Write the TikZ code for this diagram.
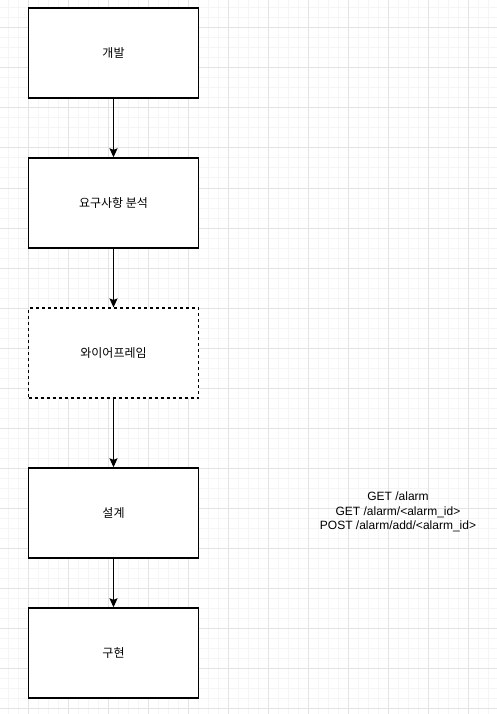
\documentclass[tikz,border=0pt]{standalone}
\usepackage{fontspec}
\setmainfont{Liberation Sans}
\newfontfamily\kr{Noto Sans CJK KR}
\usetikzlibrary{arrows.meta}
\begin{document}
\begin{tikzpicture}[x=1pt,y=-1pt,
  box/.style={draw=black,line width=1.4pt,fill=white,minimum width=170pt,minimum height=90pt,inner sep=0pt,font=\kr\fontsize{12}{14}\selectfont},
  dbox/.style={box,line width=1.1pt,dash pattern=on 3pt off 3pt},
  conn/.style={draw=black,line width=1.2pt,-{Stealth[length=9pt,width=8pt,inset=1.5pt]}},
  note/.style={align=center,font=\fontsize{12}{14.5}\selectfont,inner sep=0pt}]
\useasboundingbox (0,0) rectangle (497,714);
\fill[white] (0,0) rectangle (497,714);
\foreach \i in {0,...,49} {
  \draw[color=black!4,line width=1pt] ({8+10*\i},0) -- ({8+10*\i},714);
}
\foreach \i in {0,...,71} {
  \draw[color=black!4,line width=1pt] (0,{8+10*\i}) -- (497,{8+10*\i});
}
\foreach \i in {0,...,12} {
  \draw[color=black!11,line width=1pt] ({28+40*\i},0) -- ({28+40*\i},714);
}
\foreach \i in {0,...,17} {
  \draw[color=black!11,line width=1pt] (0,{28+40*\i}) -- (497,{28+40*\i});
}
\node[box] (dev) at (113.5,53) {개발};
\node[box] (req) at (113.5,203) {요구사항 분석};
\node[dbox] (wf) at (113.5,353) {와이어프레임};
\node[box] (des) at (113.5,513) {설계};
\node[box] (impl) at (113.5,653) {구현};
\node[note] (api) at (398,512) {GET /alarm\\GET /alarm/<alarm\_id>\\POST /alarm/add/<alarm\_id>};
\draw[conn] (dev) -- (req);
\draw[conn] (req) -- (wf);
\draw[conn] (wf) -- (des);
\draw[conn] (des) -- (impl);
\end{tikzpicture}
\end{document}
